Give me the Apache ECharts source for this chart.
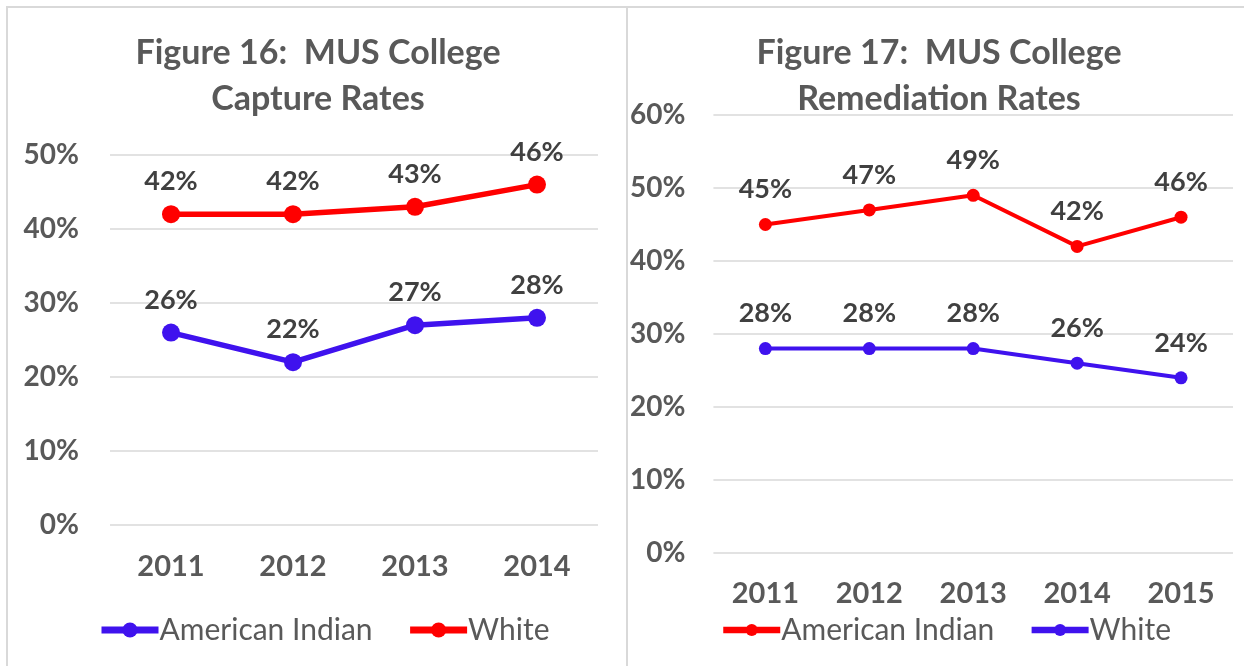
<!DOCTYPE html>
<html><head><meta charset="utf-8">
<script src="https://cdn.jsdelivr.net/npm/echarts@6/dist/echarts.min.js"></script>
<style>
html,body{margin:0;padding:0;background:#fff;width:1244px;height:666px;overflow:hidden;}
#frame{position:absolute;left:6px;top:6px;width:1238px;height:660px;border-left:2px solid #d9d9d9;border-top:2px solid #d9d9d9;box-sizing:border-box;}
#sep{position:absolute;left:626px;top:6px;width:2px;height:660px;background:#d9d9d9;}
#c1{position:absolute;left:0;top:0;width:627px;height:666px;}
#c2{position:absolute;left:627px;top:0;width:617px;height:666px;}
</style></head>
<body>
<div id="frame"></div><div id="sep"></div>
<div id="c1"></div><div id="c2"></div>
<script>
// Figure 16 data
const years16 = ['2011','2012','2013','2014'];
const amInd16 = [26, 22, 27, 28];
const white16 = [42, 42, 43, 46];
// Figure 17 data
const years17 = ['2011','2012','2013','2014','2015'];
const amInd17 = [45, 47, 49, 42, 46];
const white17 = [28, 28, 28, 26, 24];

const FONT = 'Lato';
const BLUE = '#3f12ee';
const RED = '#ff0000';

function makeOpt(cfg){
  return {
    animation:false,
    textStyle:{fontFamily:FONT},
    title:{
      text:cfg.title, left:cfg.titleX, top:cfg.titleTop, textAlign:'center',
      textStyle:{fontFamily:FONT,fontSize:34,fontWeight:'bold',color:'#595959',lineHeight:46}
    },
    legend:{
      left:cfg.legendLeft, top:cfg.legendTop, itemWidth:57, itemHeight:cfg.legendSym, itemGap:34,
      lineStyle:{width:cfg.legendLw},
      textStyle:{fontFamily:FONT,fontSize:30,color:'#595959',padding:[0,0,0,-4]},
      data:cfg.series.map(s=>s.name)
    },
    grid:cfg.grid,
    xAxis:{type:'category',data:cfg.cats,boundaryGap:true,
      axisLine:{show:false},axisTick:{show:false},
      axisLabel:{fontFamily:FONT,fontSize:29,fontWeight:'bold',color:'#595959',margin:cfg.xMargin}},
    yAxis:{type:'value',min:0,max:cfg.max,interval:10,
      axisLine:{show:false},axisTick:{show:false},
      splitLine:{lineStyle:{color:'#d9d9d9',width:1.5}},
      axisLabel:{formatter:'{value}%',fontFamily:FONT,fontSize:28,fontWeight:'bold',color:'#595959',margin:cfg.yMargin}},
    series:cfg.series.map(s=>({
      name:s.name,type:'line',data:s.data,symbol:'circle',symbolSize:cfg.symbol,
      itemStyle:{color:s.color},lineStyle:{color:s.color,width:cfg.lw},
      label:{show:true,position:'top',distance:cfg.labelDist,formatter:'{c}%',
        fontFamily:FONT,fontSize:27,fontWeight:'bold',color:'#404040'}
    }))
  };
}

const c1 = echarts.init(document.getElementById('c1'),null,{renderer:'canvas'});
c1.setOption(makeOpt({
  title:'Figure 16:  MUS College\nCapture Rates', titleX:313, titleTop:25,
  legendLeft:93, legendTop:610, legendSym:19, legendLw:7,
  grid:{left:110,right:29,top:155,bottom:141},
  cats:years16, max:50, xMargin:27, yMargin:31, symbol:18, lw:5.5, labelDist:10,
  series:[{name:'American Indian',data:amInd16,color:BLUE},{name:'White',data:white16,color:RED}]
}));

const c2 = echarts.init(document.getElementById('c2'),null,{renderer:'canvas'});
c2.setOption(makeOpt({
  title:'Figure 17:  MUS College\nRemediation Rates', titleX:307, titleTop:25,
  legendLeft:88, legendTop:610, legendSym:15, legendLw:6.5,
  grid:{left:84,right:11,top:115,bottom:113},
  cats:years17, max:60, xMargin:26, yMargin:28, symbol:13, lw:4, labelDist:15,
  series:[{name:'American Indian',data:amInd17,color:RED},{name:'White',data:white17,color:BLUE}]
}));
</script>
</body></html>
